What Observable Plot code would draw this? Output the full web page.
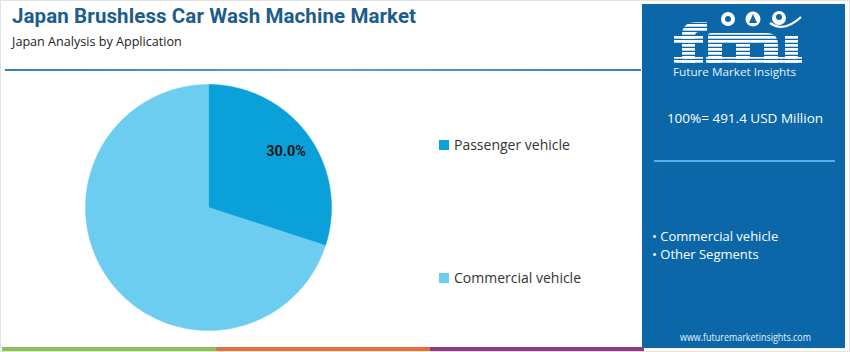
<!DOCTYPE html>
<html><head><meta charset="utf-8">
<script src="https://cdn.jsdelivr.net/npm/d3@7"></script>
<script src="https://cdn.jsdelivr.net/npm/@observablehq/plot@0.6"></script>
<style>
html,body{margin:0;padding:0;background:#fff;}
#wrap{position:relative;width:850px;height:352px;overflow:hidden;font-family:"Open Sans",Roboto,sans-serif;box-sizing:border-box;border:1px solid #e2e2e2;}
.abs{position:absolute;white-space:nowrap;}
#title{left:11px;top:3px;font-size:20.5px;font-weight:700;color:#1b5d8c;font-family:Roboto,"Open Sans",sans-serif;letter-spacing:0.1px;}
#subtitle{left:11px;top:32px;font-size:12.6px;color:#222;}
#rule{left:4px;top:68px;width:636px;height:2px;background:linear-gradient(90deg,#3a7fb5,#5d9fd0,#3a7fb5);}
#panel{left:641px;top:3px;width:203px;height:344px;background:#0b67a8;}
.leg{font-size:14px;color:#333;}
.sw{display:inline-block;width:10px;height:10px;margin-right:5px;vertical-align:0px;}
.bar{top:346px;height:4px;}
</style></head><body>
<div id="wrap">
  <div class="abs" id="title">Japan Brushless Car Wash Machine Market</div>
  <div class="abs" id="subtitle">Japan Analysis by Application</div>
  <div class="abs" id="rule"></div>
  <div class="abs" id="panel"></div>
  <div id="pie" class="abs" style="left:82px;top:81px;"></div>
  <div id="legend"></div>
  <div class="abs bar" style="left:1px;width:214px;background:#8cc05a;"></div>
  <div class="abs bar" style="left:215px;width:214px;background:#e0703c;"></div>
  <div class="abs bar" style="left:429px;width:214px;background:#8b3a86;"></div>
  <div id="side"></div>
</div>
<script>
const categories = ["Passenger vehicle", "Commercial vehicle"];
const shares = [30.0, 70.0];
const colors = ["#0aa0d9", "#6dcdf1"];
const labels = ["30.0%", ""];
const totalText = "100%= 491.4 USD Million";
const panelItems = ["Commercial vehicle", "Other Segments"];

// Build slice outlines from the share values (angles from 12 o'clock, clockwise)
const total = d3.sum(shares);
let start = 0;
const slicePts = [];
const labelPts = [];
shares.forEach((v, i) => {
  const a0 = start / total * 2 * Math.PI;
  const a1 = (start + v) / total * 2 * Math.PI;
  start += v;
  const pts = [{cat: categories[i], x: 0, y: 0}];
  const n = Math.max(2, Math.ceil((a1 - a0) / (Math.PI / 360)));
  for (let k = 0; k <= n; k++) {
    const a = a0 + (a1 - a0) * k / n;
    pts.push({cat: categories[i], x: Math.sin(a), y: Math.cos(a)});
  }
  pts.push({cat: categories[i], x: 0, y: 0});
  slicePts.push(pts);
  const am = (a0 + a1) / 2;
  labelPts.push({text: labels[i], x: 0.78 * Math.sin(am), y: 0.78 * Math.cos(am)});
});

const pie = Plot.plot({
  width: 250, height: 250,
  margin: 2,
  x: {domain: [-1, 1], axis: null},
  y: {domain: [-1, 1], axis: null},
  style: {background: "transparent", overflow: "visible"},
  marks: [
    ...slicePts.map((pts, i) => Plot.line(pts, {x: "x", y: "y", fill: colors[i], stroke: colors[i], strokeWidth: 0.5, curve: "linear"})),
    Plot.text(labelPts.filter(d => d.text), {x: "x", y: "y", text: "text", fontSize: 14.5, fontWeight: 700, fill: "#1a1a1a", fontFamily: "Roboto, sans-serif"})
  ]
});
document.getElementById("pie").appendChild(pie);

// Legend
const legend = document.getElementById("legend");
const legTops = [134, 267];
categories.forEach((c, i) => {
  const d = document.createElement("div");
  d.className = "abs leg";
  d.style.left = "438px";
  d.style.top = legTops[i] + "px";
  d.innerHTML = `<span class="sw" style="background:${colors[i]}"></span>${c}`;
  legend.appendChild(d);
});

// Side panel content
const side = document.getElementById("side");
side.innerHTML = `
<svg class="abs" style="left:641px;top:3px" width="203" height="344">
  <defs>
    <pattern id="stripes" width="4" height="4" patternUnits="userSpaceOnUse">
      <rect width="4" height="2.7" fill="#ffffff"/>
    </pattern>
  </defs>
  <g fill="url(#stripes)">
    <path d="M40 60 V31 Q40 18 55 18 H65 V28 H57 Q53 28 53 32 V60 Z"/>
    <rect x="32" y="32" width="29" height="8"/>
    <rect x="32" y="53" width="29" height="7"/>
    <path d="M66 60 V31 Q66 29 70 29 H124 Q136 29 136 41 V60 H122 V40 H108 V60 H94 V40 H80 V60 Z"/>
    <rect x="64" y="53" width="76" height="7"/>
    <rect x="143" y="31" width="13" height="29"/>
    <rect x="139" y="53" width="21" height="7"/>
  </g>
  <circle cx="86" cy="15" r="7" fill="#fff"/>
  <circle cx="111" cy="15" r="7.5" fill="#fff"/>
  <circle cx="137" cy="14" r="7" fill="#fff"/>
  <circle cx="86" cy="15" r="3" fill="#0b67a8"/>
  <path d="M111 10 l-4 9 h8 z" fill="#0b67a8"/>
  <circle cx="137" cy="13" r="3" fill="#0b67a8"/>
  <path d="M128 19 Q 142 29 159 13" stroke="#fff" stroke-width="2.2" fill="none"/>
  <text x="31" y="72" textLength="123" lengthAdjust="spacingAndGlyphs" font-family="Open Sans, sans-serif" font-size="11.5" fill="#e8f2fb">Future Market Insights</text>
  <text x="103" y="119" text-anchor="middle" font-family="Open Sans, sans-serif" font-size="13.5" fill="#fff">${totalText}</text>
  <line x1="12" y1="157" x2="193" y2="157" stroke="#58aee8" stroke-width="2"/>
  <text x="10" y="237" font-family="Open Sans, sans-serif" font-size="13" fill="#fff">• ${panelItems[0]}</text>
  <text x="10" y="255" font-family="Open Sans, sans-serif" font-size="13" fill="#fff">• ${panelItems[1]}</text>
  <text x="38" y="337" textLength="131" lengthAdjust="spacingAndGlyphs" font-family="Open Sans, sans-serif" font-size="10" fill="#e8f2fb">www.futuremarketinsights.com</text>
</svg>`;
</script>
</body></html>
